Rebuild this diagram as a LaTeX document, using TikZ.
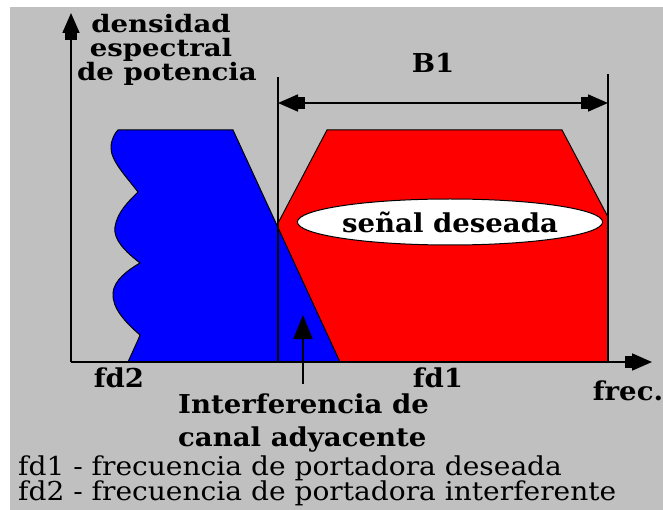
\documentclass[tikz,border=0pt]{standalone}
\usepackage{fontspec}
\setmainfont{DejaVu Serif}
\newfontfamily\lblfam[FakeStretch=1.06]{DejaVu Serif}
\newfontfamily\ylfam[FakeStretch=1.15]{DejaVu Serif}
\newfontfamily\legfam[FakeStretch=1.08]{DejaVu Serif}
\usetikzlibrary{arrows.meta,shapes.geometric}
\definecolor{bg}{HTML}{C0C0C0}
\definecolor{sblue}{HTML}{0000FF}
\definecolor{sred}{HTML}{FF0000}
\begin{document}
\begin{tikzpicture}[x=1pt,y=-1pt,
  axis/.style={line width=1.8pt},
  outline/.style={draw=black,line width=1pt},
  lbl/.style={font=\lblfam\bfseries\fontsize{26}{30}\selectfont,inner sep=0pt},
  ylbl/.style={font=\ylfam\bfseries\fontsize{24}{28}\selectfont,inner sep=0pt},
  note/.style={font=\legfam\fontsize{26}{30}\selectfont,inner sep=0pt},
  bigtip/.style={-{Rectangle[length=7pt,width=12pt]Triangle[length=20pt,width=17pt]}},
  bigtips/.style={{Triangle[length=20pt,width=17pt]Rectangle[length=7pt,width=12pt]}-{Rectangle[length=7pt,width=12pt]Triangle[length=20pt,width=17pt]}},
  uptip/.style={-{Triangle[length=24pt,width=19pt]}}
]
\useasboundingbox (0,0) rectangle (663,510);
\fill[white] (0,0) rectangle (663,510);
\fill[bg] (10,7) rectangle (663,510);
% red spectrum (desired signal)
\filldraw[fill=sred,outline] (205,362) -- (327,130) -- (562,130) -- (608,217) -- (608,362) -- cycle;
% blue spectrum (interfering)
\filldraw[fill=sblue,outline] (128,362) -- (138,340) -- (140,335)
  .. controls (125,322) and (112,308) .. (113,293)
  .. controls (114,280) and (128,270) .. (140,263)
  .. controls (126,252) and (113,240) .. (115,227)
  .. controls (117,212) and (130,200) .. (138,192)
  .. controls (125,175) and (110,160) .. (111,146)
  .. controls (112,138) and (115,133) .. (118,130)
  -- (233,130) -- (340,362) -- cycle;
% axes
\coordinate (O) at (71,362);
\coordinate (ytip) at (71,13);
\coordinate (xtip) at (652,362);
\draw[axis,bigtip] (O) -- (ytip);
\draw[axis,bigtip] (O) -- (xtip);
% band limits
\coordinate (l1top) at (278,77);
\coordinate (l1bot) at (278,362);
\coordinate (l2top) at (608,74);
\coordinate (l2bot) at (608,362);
\draw[axis] (l1top) -- (l1bot);
\draw[axis] (l2top) -- (l2bot);
\coordinate (b1l) at (278,103);
\coordinate (b1r) at (608,103);
\draw[axis,bigtips] (b1l) -- (b1r);
\node[lbl,anchor=base] (b1) at (433,73) {B1};
% signal label
\node[ellipse,draw=black,line width=1pt,fill=white,minimum width=266pt,minimum height=46pt,inner sep=0pt,lbl] (sig) at (450,222) {señal deseada};
% y label
\node[ylbl,anchor=base] (ylab1) at (161,33) {densidad};
\node[ylbl,anchor=base] (ylab2) at (161,57) {espectral};
\node[ylbl,anchor=base] (ylab3) at (167,81) {de potencia};
% axis labels
\node[lbl,anchor=base] (fd2) at (119,387) {fd2};
\node[lbl,anchor=base] (fd1) at (438,387) {fd1};
\node[lbl,anchor=base] (frec) at (628,400) {frec.};
% interference arrow
\coordinate (intbot) at (303,384);
\coordinate (inttip) at (303,315);
\draw[axis,uptip] (intbot) -- (inttip);
\node[lbl,anchor=base west] (int1) at (178,413) {Interferencia de};
\node[lbl,anchor=base west] (int2) at (178,446) {canal adyacente};
% legend
\node[note,anchor=base west] (leg1) at (18,475) {fd1 - frecuencia de portadora deseada};
\node[note,anchor=base west] (leg2) at (18,500) {fd2 - frecuencia de portadora interferente};
\end{tikzpicture}
\end{document}
